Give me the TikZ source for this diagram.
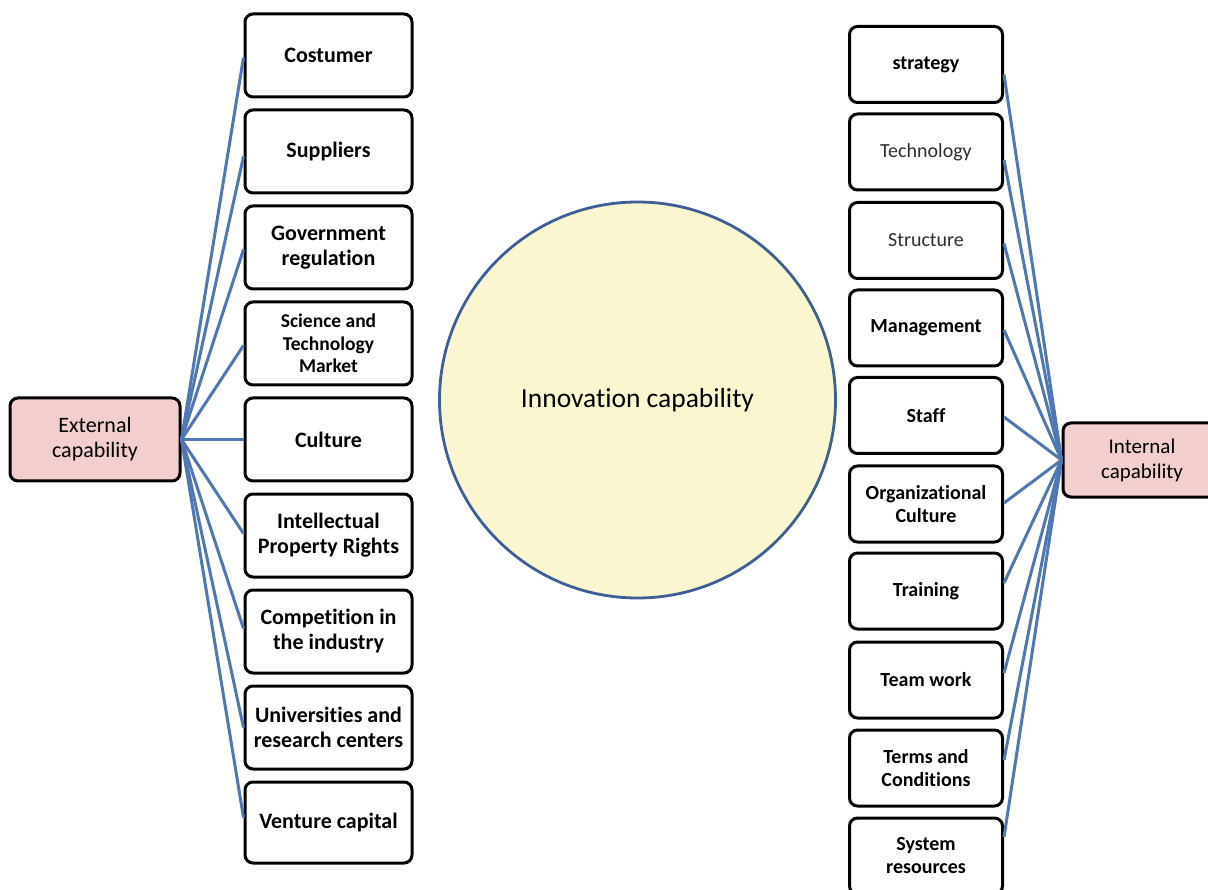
\documentclass[tikz,border=0pt]{standalone}
\usepackage{fontspec}
\setmainfont{Carlito}[Ligatures={CommonOff,ContextualOff}]
\newcommand{\nolig}{\kern0pt{}}
\definecolor{linkblue}{RGB}{79,120,178}
\definecolor{circleedge}{RGB}{62,94,150}
\definecolor{circlefill}{RGB}{250,246,207}
\definecolor{pinkfill}{RGB}{242,206,206}
\definecolor{softtext}{RGB}{45,45,45}
\begin{document}
\begin{tikzpicture}[x=1pt,y=-1pt,
  box/.style={draw=black, line width=3pt, rounded corners=8pt, fill=white, align=center, inner sep=2pt},
  lbox/.style={box, minimum width=167pt, minimum height=83pt, font=\bfseries\fontsize{22}{25}\selectfont},
  rbox/.style={box, minimum width=153pt, minimum height=76pt, font=\fontsize{20}{23}\selectfont},
  pinkbox/.style={box, fill=pinkfill, font=\fontsize{22}{25}\selectfont},
  link/.style={draw=linkblue, line width=3pt}]
\useasboundingbox (0,0) rectangle (1208,890);

% centre circle
\node[circle, draw=circleedge, line width=2.8pt, fill=circlefill, minimum size=396pt, inner sep=0pt,
      font=\fontsize{27.5}{32}\selectfont] (ic) at (637.5,400) {Innovation capability};

% left column
\node[lbox] (l1) at (328.5,55.5) {Costumer};
\node[lbox] (l2) at (328.5,151.5) {Suppliers};
\node[lbox] (l3) at (328.5,247.5) {Government\\regulat\nolig ion};
\node[lbox, font=\bfseries\fontsize{19.5}{22.7}\selectfont] (l4) at (328.5,343.5) {Science and\\Technology\\Market};
\node[lbox] (l5) at (328.5,439.5) {Culture};
\node[lbox] (l6) at (328.5,535.5) {Intellectual\\Property Rights};
\node[lbox] (l7) at (328.5,631.5) {Compet\nolig it\nolig ion in\\the industry};
\node[lbox] (l8) at (328.5,727.5) {Universit\nolig ies and\\research centers};
\node[lbox, minimum height=81pt] (l9) at (328.5,822.5) {Venture capital};

\node[pinkbox, minimum width=170pt, minimum height=83pt] (ext) at (95,439.5) {External\\capability};

% right column
\node[rbox, font=\bfseries\fontsize{20}{23}\selectfont] (r1) at (926,64.5) {strategy};
\node[rbox, text=softtext] (r2) at (926,152) {Technology};
\node[rbox, text=softtext] (r3) at (926,240.5) {Structure};
\node[rbox, font=\bfseries\fontsize{20}{23}\selectfont] (r4) at (926,328) {Management};
\node[rbox, font=\bfseries\fontsize{20}{23}\selectfont] (r5) at (926,415.5) {Staff};
\node[rbox, font=\bfseries\fontsize{20}{23}\selectfont] (r6) at (926,504) {Organizat\nolig ional\\Culture};
\node[rbox, font=\bfseries\fontsize{20}{23}\selectfont] (r7) at (926,591) {Training};
\node[rbox, font=\bfseries\fontsize{20}{23}\selectfont] (r8) at (926,680) {Team work};
\node[rbox, font=\bfseries\fontsize{20}{23}\selectfont] (r9) at (926,768) {Terms and\\Condit\nolig ions};
\node[rbox, font=\bfseries\fontsize{20}{23}\selectfont] (r10) at (926,856) {System\\resources};

\node[pinkbox, minimum width=158pt, minimum height=74pt, font=\fontsize{21}{25}\selectfont] (int) at (1142,460) {Internal\\capability};

% left links
\draw[link] (ext.east) -- ([yshift=-2pt]l1.west);
\draw[link] (ext.east) -- ([yshift=-5pt]l2.west);
\draw[link] (ext.east) -- ([yshift=-2pt]l3.west);
\draw[link] (ext.east) -- ([yshift=-2pt]l4.west);
\draw[link] (ext.east) -- (l5.west);
\draw[link] (ext.east) -- ([yshift=2pt]l6.west);
\draw[link] (ext.east) -- ([yshift=3pt]l7.west);
\draw[link] (ext.east) -- (l8.west);
\draw[link] (ext.east) -- ([yshift=5pt]l9.west);

% right links
\draw[link] (int.west) -- ([yshift=-10pt]r1.east);
\draw[link] (int.west) -- ([yshift=-8pt]r2.east);
\draw[link] (int.west) -- ([yshift=-3pt]r3.east);
\draw[link] (int.west) -- ([yshift=-2pt]r4.east);
\draw[link] (int.west) -- ([yshift=-1.5pt]r5.east);
\draw[link] (int.west) -- ([yshift=1pt]r6.east);
\draw[link] (int.west) -- ([yshift=8pt]r7.east);
\draw[link] (int.west) -- ([yshift=7pt]r8.east);
\draw[link] (int.west) -- ([yshift=8pt]r9.east);
\draw[link] (int.west) -- ([yshift=19pt]r10.east);
\end{tikzpicture}
\end{document}
